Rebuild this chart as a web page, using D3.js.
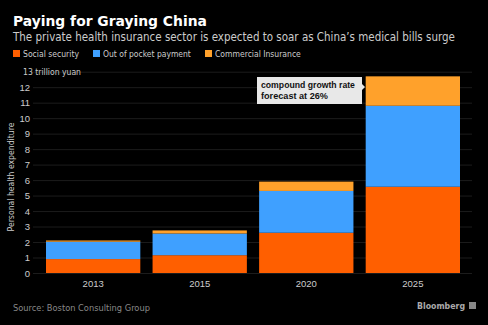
<!DOCTYPE html>
<html>
<head>
<meta charset="utf-8">
<script src="https://cdn.jsdelivr.net/npm/d3@7"></script>
<style>
  body { margin: 0; background: #000; }
  svg { display: block; font-family: 'DejaVu Sans Condensed', 'DejaVu Sans', sans-serif; }
  .tick text { fill: #ccc; font-size: 9.5px; }
</style>
</head>
<body>
<div id="chart"></div>
<script>
const years = ['2013', '2015', '2020', '2025']
const socialSecurity = [0.9, 1.15, 2.6, 5.57]
const outOfPocket = [1.12, 1.4, 2.7, 5.23]
const commercial = [0.08, 0.2, 0.6, 1.9]
const seriesNames = ['Social security', 'Out of pocket payment', 'Commercial Insurance']
const colors = ['#ff5f00', '#3fa0ff', '#ffa12b']
const yTicks = d3.range(0, 14)

const W = 488
const H = 325
const margin = { top: 71.7, right: 16, bottom: 52, left: 33 }
const width = W - margin.left - margin.right
const height = H - margin.top - margin.bottom

const svg = d3
  .select('#chart')
  .append('svg')
  .attr('width', W)
  .attr('height', H)

svg.append('rect').attr('width', W).attr('height', H).attr('fill', '#000')

// shrink/grow font so text spans the width seen in the picture
function fit(sel, target) {
  sel.each(function() {
    const len = this.getComputedTextLength()
    const fs = parseFloat(d3.select(this).attr('font-size'))
    d3.select(this).attr('font-size', (fs * target / len).toFixed(2))
  })
}

// title + subtitle
svg.append('text')
  .attr('x', 13).attr('y', 26)
  .attr('fill', '#fff')
  .attr('font-size', 15).attr('font-weight', 'bold')
  .attr('font-family', 'DejaVu Sans')
  .text('Paying for Graying China')
  .call(fit, 194)

svg.append('text')
  .attr('x', 13).attr('y', 40.5)
  .attr('fill', '#ccc')
  .attr('font-size', 12)
  .text('The private health insurance sector is expected to soar as China\u2019s medical bills surge')
  .call(fit, 442)

// legend
const legendX = [13, 93, 205]
const legendW = [56, 88, 86]
const legend = svg.selectAll('.legend')
  .data(seriesNames)
  .enter()
  .append('g')
  .attr('class', 'legend')
  .attr('transform', (d, i) => `translate(${legendX[i]},50)`)

legend.append('rect')
  .attr('width', 7).attr('height', 7)
  .attr('fill', (d, i) => colors[i])

legend.append('text')
  .attr('x', 10).attr('y', 7)
  .attr('fill', '#ccc')
  .attr('font-size', 9)
  .text(d => d)
  .each(function(d, i) { fit(d3.select(this), legendW[i]) })

const g = svg.append('g')
  .attr('transform', `translate(${margin.left},${margin.top})`)

const x = d3.scaleBand()
  .domain(years)
  .range([13, 427])
  .paddingInner(0.115)
  .paddingOuter(0)

const y = d3.scaleLinear().domain([0, 13]).range([height, 0])

// gridlines + y axis
const yAxis = d3.axisLeft(y)
  .tickValues(yTicks)
  .tickSize(-width)
  .tickPadding(3)
  .tickFormat(d => d === 13 ? '' : d)

g.append('g')
  .attr('class', 'axis y-axis')
  .call(yAxis)
  .call(a => a.select('.domain').remove())
  .call(a => a.selectAll('.tick line').attr('stroke', '#1c1c1c'))

g.append('text')
  .attr('x', -10).attr('y', y(13) + 3.5)
  .attr('fill', '#ccc')
  .attr('font-size', 9.5)
  .text('13 trillion yuan')
  .call(fit, 58)

g.append('text')
  .attr('transform', `translate(-19,${y(6.2)}) rotate(-90)`)
  .attr('text-anchor', 'middle')
  .attr('fill', '#ccc')
  .attr('font-size', 9.5)
  .text('Personal health expenditure')
  .call(fit, 109)

// stacked bars
const table = years.map((yr, i) => ({
  year: yr,
  s0: socialSecurity[i],
  s1: outOfPocket[i],
  s2: commercial[i]
}))
const stack = d3.stack().keys(['s0', 's1', 's2'])(table)

g.selectAll('.series')
  .data(stack)
  .enter()
  .append('g')
  .attr('class', 'series')
  .attr('fill', (d, i) => colors[i])
  .selectAll('rect')
  .data(d => d)
  .enter()
  .append('rect')
  .attr('x', d => x(d.data.year))
  .attr('width', x.bandwidth())
  .attr('y', d => y(d[1]))
  .attr('height', d => y(d[0]) - y(d[1]))

// x axis labels
const xAxis = d3.axisBottom(x).tickSize(0).tickPadding(7)
g.append('g')
  .attr('class', 'axis x-axis')
  .attr('transform', `translate(0,${height})`)
  .call(xAxis)
  .call(a => a.select('.domain').remove())

// annotation
const ann = svg.append('g').attr('transform', 'translate(257,77)')
ann.append('rect')
  .attr('width', 105).attr('height', 27)
  .attr('fill', '#e8e8e8')
ann.append('path')
  .attr('d', 'M105,7 L108,10 L105,13 Z')
  .attr('fill', '#e8e8e8')
ann.append('text')
  .attr('x', 4).attr('y', 11)
  .attr('fill', '#111')
  .attr('font-size', 8.5).attr('font-weight', 'bold')
  .attr('font-family', 'Liberation Sans, Arial, sans-serif')
  .text('compound growth rate')
  .call(fit, 94)
ann.append('text')
  .attr('x', 4).attr('y', 21.5)
  .attr('fill', '#111')
  .attr('font-size', 8.5).attr('font-weight', 'bold')
  .attr('font-family', 'Liberation Sans, Arial, sans-serif')
  .text('forecast at 26%')
  .call(fit, 67)

// footer
svg.append('text')
  .attr('x', 13).attr('y', 311)
  .attr('fill', '#888')
  .attr('font-size', 10)
  .text('Source: Boston Consulting Group')
  .call(fit, 137)

svg.append('text')
  .attr('x', 465).attr('y', 309)
  .attr('text-anchor', 'end')
  .attr('fill', '#aaa')
  .attr('font-size', 10)
  .attr('font-weight', 'bold')
  .text('Bloomberg')
  .call(fit, 48)

svg.append('rect')
  .attr('x', 469).attr('y', 302)
  .attr('width', 7).attr('height', 7)
  .attr('fill', '#888')
</script>
</body>
</html>
